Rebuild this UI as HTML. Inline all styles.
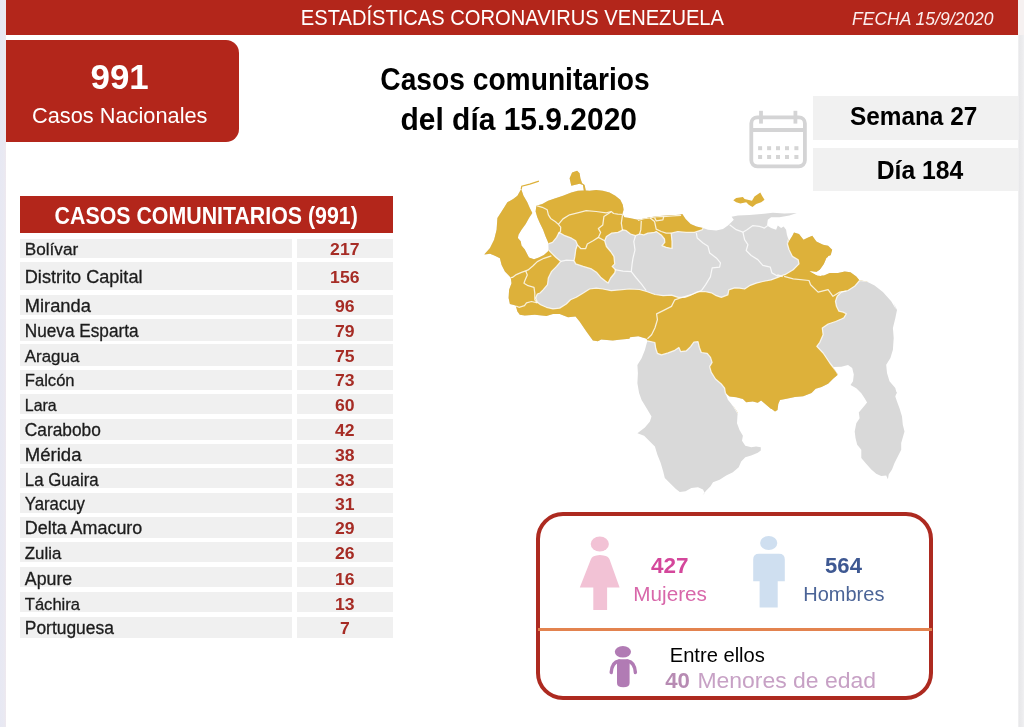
<!DOCTYPE html>
<html lang="es"><head><meta charset="utf-8"><title>Estadísticas Coronavirus Venezuela</title>
<style>
html,body{margin:0;padding:0;background:#fff;}
body{width:1024px;height:727px;position:relative;overflow:hidden;font-family:"Liberation Sans",sans-serif;}
.abs{position:absolute;}
svg.txt text{font-family:"Liberation Sans",sans-serif;}
.row{position:absolute;left:20px;width:373.3px;}
.row i{position:absolute;top:0;bottom:0;background:#f0f0f0;display:block;}
.row i.a{left:0;width:272.2px;}
.row i.b{left:276.5px;right:0;}
</style></head><body>

<div class="abs" style="left:0;top:0;width:6px;height:727px;background:linear-gradient(90deg,#e7e8f3 0,#e9e9f2 70%,#efe8ee 100%);"></div>
<div class="abs" style="left:1018px;top:0;width:6px;height:727px;background:linear-gradient(90deg,#f4f4f5 0,#e8e8ea 20%,#ebebed 60%,#f0f0f2 100%);"></div><div class="abs" style="left:1018px;top:0;width:6px;height:35px;background:#f6f1f1;"></div>
<div class="abs" style="left:6px;top:0;width:1012px;height:34.6px;background:#b3261b;"></div>
<div class="abs" style="left:6px;top:39.6px;width:232.7px;height:102.1px;background:#b3261b;border-radius:0 13px 13px 0;"></div>
<div class="abs" style="left:813px;top:96px;width:205px;height:43.9px;background:#f1f1f1;"></div>
<div class="abs" style="left:813px;top:147.6px;width:205px;height:43.6px;background:#f1f1f1;"></div>
<svg class="abs" style="left:740px;top:100px" width="80" height="80" viewBox="740 100 80 80">
<g fill="none" stroke="#d4d4d5" stroke-width="3.8">
<rect x="751.3" y="117.3" width="53.6" height="49.0" rx="6" ry="6"/>
<line x1="751" y1="130" x2="805" y2="130"/>
<line x1="761" y1="110.8" x2="761" y2="123.6"/>
<line x1="795.4" y1="110.8" x2="795.4" y2="123.6"/>
</g><g fill="#d5d5d5">
<rect x="758.1" y="146.2" width="4" height="4"/>
<rect x="767.1" y="146.2" width="4" height="4"/>
<rect x="776.0" y="146.2" width="4" height="4"/>
<rect x="785.0" y="146.2" width="4" height="4"/>
<rect x="794.4" y="146.2" width="4" height="4"/>
<rect x="758.1" y="155.0" width="4" height="4"/>
<rect x="767.1" y="155.0" width="4" height="4"/>
<rect x="776.0" y="155.0" width="4" height="4"/>
<rect x="785.0" y="155.0" width="4" height="4"/>
<rect x="794.4" y="155.0" width="4" height="4"/>
</g></svg>
<div class="abs" style="left:19.8px;top:196.3px;width:373.5px;height:36.9px;background:#b3261b;"></div>
<div class="row" style="top:238.7px;height:19.3px;"><i class="a"></i><i class="b"></i></div>
<div class="row" style="top:262.3px;height:28.0px;"><i class="a"></i><i class="b"></i></div>
<div class="row" style="top:294.5px;height:20.4px;"><i class="a"></i><i class="b"></i></div>
<div class="row" style="top:319.0px;height:21.8px;"><i class="a"></i><i class="b"></i></div>
<div class="row" style="top:344.4px;height:21.2px;"><i class="a"></i><i class="b"></i></div>
<div class="row" style="top:369.5px;height:20.2px;"><i class="a"></i><i class="b"></i></div>
<div class="row" style="top:393.9px;height:20.6px;"><i class="a"></i><i class="b"></i></div>
<div class="row" style="top:419.0px;height:20.7px;"><i class="a"></i><i class="b"></i></div>
<div class="row" style="top:443.7px;height:20.0px;"><i class="a"></i><i class="b"></i></div>
<div class="row" style="top:467.9px;height:20.6px;"><i class="a"></i><i class="b"></i></div>
<div class="row" style="top:493.2px;height:20.0px;"><i class="a"></i><i class="b"></i></div>
<div class="row" style="top:517.4px;height:20.6px;"><i class="a"></i><i class="b"></i></div>
<div class="row" style="top:542.1px;height:20.2px;"><i class="a"></i><i class="b"></i></div>
<div class="row" style="top:567.2px;height:20.2px;"><i class="a"></i><i class="b"></i></div>
<div class="row" style="top:592.0px;height:19.8px;"><i class="a"></i><i class="b"></i></div>
<div class="row" style="top:616.7px;height:21.3px;"><i class="a"></i><i class="b"></i></div>
<svg class="abs" style="left:460px;top:150px" width="480" height="360" viewBox="460 150 480 360">
<defs><clipPath id="cp"><path d="M484.2 254.6 L490.0 248.0 L494.1 239.7 L496.6 229.7 L497.4 218.1 L501.6 211.5 L507.4 202.3 L513.2 199.0 L517.4 195.7 L521.2 189.1 L523.5 195.7 L527.3 202.3 L529.8 208.1 L532.3 213.1 L529.0 218.1 L525.7 223.9 L521.5 229.7 L518.5 234.7 L517.9 238.0 L520.7 241.3 L521.5 245.5 L524.8 249.6 L527.0 253.8 L529.0 257.6 L534.0 259.3 L538.9 257.6 L543.9 255.0 L548.1 251.3 L548.4 243.0 L545.6 236.4 L543.1 229.7 L539.8 223.1 L537.3 217.3 L535.6 211.5 L536.4 205.7 L542.3 204.0 L548.1 200.7 L554.7 198.5 L563.0 195.7 L571.3 192.4 L577.9 190.7 L583.8 190.4 L582.9 184.9 L579.6 183.7 L571.3 185.7 L569.6 178.3 L572.1 172.5 L577.1 170.8 L579.6 173.3 L580.4 178.3 L582.1 183.2 L584.6 184.9 L585.8 190.4 L589.6 190.7 L596.2 189.9 L602.9 190.7 L609.5 192.4 L615.3 195.7 L620.3 199.8 L622.8 204.8 L623.6 209.8 L622.4 214.0 L624.4 217.3 L629.4 218.1 L637.7 219.8 L644.4 218.4 L649.9 217.3 L659.9 216.1 L671.5 215.3 L679.8 214.8 L682.3 214.0 L685.6 218.9 L690.6 223.9 L696.4 226.4 L703.0 228.1 L708.0 229.7 L716.3 230.6 L723.0 228.9 L727.9 225.6 L731.3 222.3 L733.8 219.8 L731.6 216.8 L737.9 215.6 L749.5 215.1 L761.2 214.0 L772.8 212.8 L784.4 213.5 L796.8 213.1 L789.4 215.6 L779.4 217.3 L771.1 217.3 L767.8 219.8 L767.0 225.6 L771.1 228.1 L776.1 229.7 L777.8 225.6 L781.1 228.1 L783.6 226.4 L786.1 229.7 L786.9 234.7 L788.5 239.7 L787.4 244.0 L789.9 239.8 L792.4 235.7 L794.0 232.4 L799.0 234.0 L803.5 239.8 L808.1 237.4 L812.3 235.7 L816.4 241.5 L823.1 244.8 L828.1 245.7 L832.2 249.8 L830.6 255.6 L826.4 258.1 L823.9 263.9 L819.8 269.7 L815.6 272.5 L809.8 271.1 L817.3 275.5 L823.9 275.5 L829.7 273.0 L838.0 273.0 L844.7 271.4 L850.5 272.2 L856.3 276.4 L859.6 280.5 L866.2 281.3 L874.6 285.5 L882.9 292.1 L891.2 301.3 L896.1 309.6 L893.7 303.2 L897.0 309.9 L895.3 318.2 L892.9 328.1 L893.7 338.1 L892.9 349.7 L890.4 358.0 L886.2 364.7 L887.0 373.0 L889.5 381.3 L895.3 387.9 L897.0 394.6 L897.0 391.6 L895.3 396.6 L897.0 401.6 L899.5 408.2 L902.0 416.5 L902.8 424.8 L904.5 431.5 L901.2 443.1 L901.2 449.7 L897.8 456.4 L894.5 463.0 L892.0 469.6 L888.7 474.6 L887.9 479.3 L886.2 475.5 L881.2 476.0 L876.2 473.8 L871.3 469.6 L865.5 463.0 L861.3 458.0 L861.3 449.7 L857.2 444.7 L855.5 438.1 L854.7 431.5 L856.3 423.2 L859.6 418.2 L858.8 412.4 L863.0 407.4 L867.1 402.4 L864.6 398.3 L861.3 393.3 L856.3 388.3 L850.5 385.0 L853.0 381.3 L853.8 374.6 L852.2 368.0 L848.0 365.0 L841.4 366.7 L832.8 367.0 L838.1 374.6 L833.1 378.8 L828.1 383.8 L821.5 387.1 L815.7 388.7 L811.5 392.9 L803.2 396.2 L794.9 397.0 L786.6 398.7 L780.0 399.9 L778.3 404.1 L777.5 409.9 L775.0 411.5 L771.7 409.1 L771.1 408.9 L766.1 404.7 L761.1 400.6 L757.8 402.8 L752.8 401.4 L746.2 402.3 L742.9 398.9 L736.2 397.3 L729.6 396.4 L725.4 393.1 L727.9 399.8 L734.6 408.1 L737.9 413.0 L737.5 414.9 L737.0 423.2 L739.5 429.9 L742.9 435.7 L742.0 440.7 L745.3 445.7 L751.2 447.3 L756.1 446.5 L760.8 447.3 L760.8 450.6 L757.8 452.8 L751.2 455.6 L745.3 457.3 L741.2 461.4 L738.7 467.2 L732.9 472.2 L726.2 475.5 L719.6 479.7 L713.0 482.2 L710.5 486.3 L706.3 490.5 L702.2 495.5 L704.7 493.0 L703.0 489.6 L698.0 487.2 L691.4 488.0 L685.6 491.3 L679.8 492.1 L675.6 488.8 L669.8 483.0 L664.8 478.0 L663.2 471.4 L660.7 463.1 L657.4 454.8 L654.9 446.5 L649.1 440.7 L644.1 435.7 L637.4 433.2 L644.9 427.4 L649.9 421.6 L651.5 416.6 L646.6 408.3 L641.6 400.0 L639.1 393.1 L637.4 383.2 L637.9 373.2 L637.4 364.9 L641.6 358.3 L644.9 350.0 L647.4 340.8 L646.6 338.8 L638.3 336.3 L630.0 337.2 L629.4 338.8 L621.1 339.6 L612.8 340.5 L601.2 339.6 L597.9 341.3 L592.9 340.5 L586.2 331.3 L579.6 321.4 L575.5 316.4 L568.0 317.2 L559.7 313.9 L553.0 313.9 L546.4 315.9 L534.8 314.7 L524.8 315.6 L519.8 314.7 L517.4 311.4 L515.7 305.6 L509.9 304.0 L508.6 298.1 L509.1 289.8 L511.5 283.2 L510.7 277.4 L504.9 271.6 L501.6 264.9 L499.9 258.3 L494.9 255.8 L490.0 253.7 Z"/></clipPath></defs>
<path d="M484.2 254.6 L490.0 248.0 L494.1 239.7 L496.6 229.7 L497.4 218.1 L501.6 211.5 L507.4 202.3 L513.2 199.0 L517.4 195.7 L521.2 189.1 L523.5 195.7 L527.3 202.3 L529.8 208.1 L532.3 213.1 L529.0 218.1 L525.7 223.9 L521.5 229.7 L518.5 234.7 L517.9 238.0 L520.7 241.3 L521.5 245.5 L524.8 249.6 L527.0 253.8 L529.0 257.6 L534.0 259.3 L538.9 257.6 L543.9 255.0 L548.1 251.3 L548.4 243.0 L545.6 236.4 L543.1 229.7 L539.8 223.1 L537.3 217.3 L535.6 211.5 L536.4 205.7 L542.3 204.0 L548.1 200.7 L554.7 198.5 L563.0 195.7 L571.3 192.4 L577.9 190.7 L583.8 190.4 L582.9 184.9 L579.6 183.7 L571.3 185.7 L569.6 178.3 L572.1 172.5 L577.1 170.8 L579.6 173.3 L580.4 178.3 L582.1 183.2 L584.6 184.9 L585.8 190.4 L589.6 190.7 L596.2 189.9 L602.9 190.7 L609.5 192.4 L615.3 195.7 L620.3 199.8 L622.8 204.8 L623.6 209.8 L622.4 214.0 L624.4 217.3 L629.4 218.1 L637.7 219.8 L644.4 218.4 L649.9 217.3 L659.9 216.1 L671.5 215.3 L679.8 214.8 L682.3 214.0 L685.6 218.9 L690.6 223.9 L696.4 226.4 L703.0 228.1 L708.0 229.7 L716.3 230.6 L723.0 228.9 L727.9 225.6 L731.3 222.3 L733.8 219.8 L731.6 216.8 L737.9 215.6 L749.5 215.1 L761.2 214.0 L772.8 212.8 L784.4 213.5 L796.8 213.1 L789.4 215.6 L779.4 217.3 L771.1 217.3 L767.8 219.8 L767.0 225.6 L771.1 228.1 L776.1 229.7 L777.8 225.6 L781.1 228.1 L783.6 226.4 L786.1 229.7 L786.9 234.7 L788.5 239.7 L787.4 244.0 L789.9 239.8 L792.4 235.7 L794.0 232.4 L799.0 234.0 L803.5 239.8 L808.1 237.4 L812.3 235.7 L816.4 241.5 L823.1 244.8 L828.1 245.7 L832.2 249.8 L830.6 255.6 L826.4 258.1 L823.9 263.9 L819.8 269.7 L815.6 272.5 L809.8 271.1 L817.3 275.5 L823.9 275.5 L829.7 273.0 L838.0 273.0 L844.7 271.4 L850.5 272.2 L856.3 276.4 L859.6 280.5 L866.2 281.3 L874.6 285.5 L882.9 292.1 L891.2 301.3 L896.1 309.6 L893.7 303.2 L897.0 309.9 L895.3 318.2 L892.9 328.1 L893.7 338.1 L892.9 349.7 L890.4 358.0 L886.2 364.7 L887.0 373.0 L889.5 381.3 L895.3 387.9 L897.0 394.6 L897.0 391.6 L895.3 396.6 L897.0 401.6 L899.5 408.2 L902.0 416.5 L902.8 424.8 L904.5 431.5 L901.2 443.1 L901.2 449.7 L897.8 456.4 L894.5 463.0 L892.0 469.6 L888.7 474.6 L887.9 479.3 L886.2 475.5 L881.2 476.0 L876.2 473.8 L871.3 469.6 L865.5 463.0 L861.3 458.0 L861.3 449.7 L857.2 444.7 L855.5 438.1 L854.7 431.5 L856.3 423.2 L859.6 418.2 L858.8 412.4 L863.0 407.4 L867.1 402.4 L864.6 398.3 L861.3 393.3 L856.3 388.3 L850.5 385.0 L853.0 381.3 L853.8 374.6 L852.2 368.0 L848.0 365.0 L841.4 366.7 L832.8 367.0 L838.1 374.6 L833.1 378.8 L828.1 383.8 L821.5 387.1 L815.7 388.7 L811.5 392.9 L803.2 396.2 L794.9 397.0 L786.6 398.7 L780.0 399.9 L778.3 404.1 L777.5 409.9 L775.0 411.5 L771.7 409.1 L771.1 408.9 L766.1 404.7 L761.1 400.6 L757.8 402.8 L752.8 401.4 L746.2 402.3 L742.9 398.9 L736.2 397.3 L729.6 396.4 L725.4 393.1 L727.9 399.8 L734.6 408.1 L737.9 413.0 L737.5 414.9 L737.0 423.2 L739.5 429.9 L742.9 435.7 L742.0 440.7 L745.3 445.7 L751.2 447.3 L756.1 446.5 L760.8 447.3 L760.8 450.6 L757.8 452.8 L751.2 455.6 L745.3 457.3 L741.2 461.4 L738.7 467.2 L732.9 472.2 L726.2 475.5 L719.6 479.7 L713.0 482.2 L710.5 486.3 L706.3 490.5 L702.2 495.5 L704.7 493.0 L703.0 489.6 L698.0 487.2 L691.4 488.0 L685.6 491.3 L679.8 492.1 L675.6 488.8 L669.8 483.0 L664.8 478.0 L663.2 471.4 L660.7 463.1 L657.4 454.8 L654.9 446.5 L649.1 440.7 L644.1 435.7 L637.4 433.2 L644.9 427.4 L649.9 421.6 L651.5 416.6 L646.6 408.3 L641.6 400.0 L639.1 393.1 L637.4 383.2 L637.9 373.2 L637.4 364.9 L641.6 358.3 L644.9 350.0 L647.4 340.8 L646.6 338.8 L638.3 336.3 L630.0 337.2 L629.4 338.8 L621.1 339.6 L612.8 340.5 L601.2 339.6 L597.9 341.3 L592.9 340.5 L586.2 331.3 L579.6 321.4 L575.5 316.4 L568.0 317.2 L559.7 313.9 L553.0 313.9 L546.4 315.9 L534.8 314.7 L524.8 315.6 L519.8 314.7 L517.4 311.4 L515.7 305.6 L509.9 304.0 L508.6 298.1 L509.1 289.8 L511.5 283.2 L510.7 277.4 L504.9 271.6 L501.6 264.9 L499.9 258.3 L494.9 255.8 L490.0 253.7 Z" fill="#d9d9d9"/>
<g clip-path="url(#cp)"><path d="M470.0 150.0 L720.0 150.0 L708.0 223.9 L703.0 228.4 L701.9 229.9 L694.4 232.4 L686.1 232.4 L677.8 231.5 L671.2 233.2 L672.0 241.5 L672.0 248.5 L666.2 247.3 L662.0 245.7 L664.8 242.3 L664.5 239.0 L661.2 234.9 L656.2 231.5 L654.6 232.4 L647.9 233.2 L643.8 234.9 L639.6 234.0 L635.5 235.7 L630.5 234.0 L626.3 230.7 L623.0 229.9 L618.0 232.4 L611.4 233.2 L606.4 236.5 L604.7 240.7 L606.4 246.5 L610.6 251.5 L613.9 256.4 L614.7 263.9 L612.2 266.4 L615.5 269.7 L614.7 273.0 L610.6 278.0 L608.1 283.0 L605.6 281.3 L600.6 277.2 L596.4 272.2 L591.5 268.9 L583.2 266.4 L575.7 263.9 L574.0 260.6 L574.9 256.4 L575.7 249.8 L577.4 244.8 L575.7 240.7 L571.5 238.2 L564.9 235.7 L559.1 232.4 L556.6 237.4 L552.5 242.3 L547.5 244.0 L548.3 249.8 L551.6 253.1 L555.8 257.3 L560.8 261.4 L556.6 266.4 L551.6 271.4 L548.3 278.0 L547.5 284.7 L543.3 289.6 L540.0 293.0 L537.3 294.0 L535.6 298.1 L537.3 302.3 L540.6 304.8 L546.4 307.3 L553.0 308.9 L559.7 308.1 L566.3 304.0 L570.5 299.8 L576.3 297.3 L582.9 293.2 L589.6 289.0 L596.2 288.2 L602.9 289.0 L611.2 290.7 L619.5 289.8 L629.4 289.0 L639.4 289.5 L646.6 291.5 L654.9 294.5 L663.2 295.7 L671.5 295.2 L678.1 297.3 L684.8 297.3 L691.4 294.8 L698.1 291.5 L704.7 291.5 L711.3 292.8 L716.3 295.7 L721.3 297.3 L727.9 294.8 L728.8 289.8 L734.6 287.9 L739.6 288.2 L744.6 289.0 L749.5 285.7 L756.2 283.2 L762.8 281.5 L771.1 279.9 L777.8 277.4 L784.4 274.6 L784.9 274.7 L793.2 269.7 L799.0 263.9 L798.2 259.8 L792.4 256.4 L789.1 249.8 L787.4 244.0 L790.0 233.0 L790.5 224.0 L930.0 224.0 L930.0 290.0 L859.6 280.5 L854.6 286.3 L848.0 290.5 L841.3 292.1 L837.2 296.3 L835.5 301.3 L836.4 306.2 L838.9 311.2 L843.0 312.1 L846.3 313.7 L843.8 317.9 L841.4 319.0 L835.6 321.5 L828.1 324.0 L822.3 328.1 L823.1 334.8 L819.8 342.3 L816.8 346.4 L823.1 353.0 L829.8 363.0 L835.6 370.5 L838.1 374.6 L838.0 425.0 L745.0 425.0 L728.7 398.1 L725.4 393.1 L724.6 388.1 L721.3 384.0 L715.5 379.0 L711.3 372.4 L709.6 366.6 L712.1 362.4 L710.5 357.4 L707.2 353.3 L701.3 352.5 L699.4 347.5 L698.0 341.7 L693.9 342.0 L690.6 346.6 L686.4 350.8 L680.6 351.6 L678.9 347.5 L674.8 350.3 L668.1 352.9 L661.5 354.9 L657.4 353.3 L655.7 348.3 L654.9 342.5 L647.4 340.8 L640.0 346.0 L600.0 356.0 L495.0 330.0 L470.0 250.0 Z" fill="#ddb13a" stroke="#fff" stroke-opacity="0.8" stroke-width="1.25" stroke-linejoin="round"/></g>
<path d="M733.3 200.3 L736.2 197.9 L742.9 196.9 L744.6 199.0 L752.0 200.7 L754.5 196.5 L760.3 192.4 L762.0 195.7 L764.5 199.8 L761.2 202.3 L756.2 204.0 L752.5 207.0 L748.7 204.8 L746.2 202.3 L740.4 203.5 L736.2 202.3 Z" fill="#ddb13a"/>
<path d="M521.2 189.1 L521.8 186.2 L529.8 184.1 L538.9 181.1" fill="none" stroke="#ddb13a" stroke-width="1.2"/>
<path d="M831.4 255.3 L829.7 263.9 L825.9 270.6 L820.9 275.9 L816.4 275.0 L809.5 271.2 L817.3 272.1 L821.8 268.6 L825.6 261.4 L828.4 256.1 Z" fill="#fff"/>
<g clip-path="url(#cp)" fill="none" stroke="#fff" stroke-opacity="0.8" stroke-width="1.25" stroke-linejoin="round">
<path d="M536.4 205.7 L542.3 207.3 L547.2 209.8 L548.4 214.8 L550.6 218.4 L555.5 221.8 L558.4 224.4 L560.7 227.2 L560.5 231.4 L558.4 233.9"/>
<path d="M558.4 224.4 L563.0 218.9 L569.6 214.8 L579.6 212.3 L586.2 210.6 L596.2 211.5 L606.2 212.8 L611.2 211.5 L613.6 213.5 L617.8 214.1 L623.1 214.5"/>
<path d="M610.9 212.0 L603.9 216.6 L602.8 224.9 L598.4 228.6 L600.6 232.4 L598.4 237.4 L604.7 240.7"/>
<path d="M577.4 244.8 L580.7 248.5 L585.7 248.5 L587.3 244.0 L593.1 240.7 L598.4 237.4"/>
<path d="M622.5 214.9 L621.3 223.2 L622.5 230.4"/>
<path d="M641.3 220.8 L640.8 229.9 L639.6 234.0"/>
<path d="M637.9 220.3 L643.8 218.6 L649.6 217.9 L656.2 216.6 L662.9 216.6 L672.8 215.8 L681.1 215.3"/>
<path d="M650.1 217.9 L654.6 221.6 L656.2 229.1 L661.2 231.5 L666.2 233.2 L671.2 233.2"/>
<path d="M654.6 217.6 L656.2 220.8 L662.9 219.9 L663.7 216.6"/>
<path d="M551.4 255.8 L543.9 258.3 L537.3 261.6 L533.1 265.8 L528.1 269.9 L525.7 270.8 L521.5 272.4 L515.7 274.9 L512.4 277.4 L510.7 277.7"/>
<path d="M525.7 270.8 L527.3 274.9 L524.8 280.7 L524.0 283.2 L528.1 285.7 L534.0 287.4 L534.8 293.2 L534.8 299.8 L537.3 302.8"/>
<path d="M537.3 302.8 L531.5 301.5 L526.5 302.8 L524.5 305.6 L519.0 307.3 L516.2 306.1"/>
<path d="M701.4 290.7 L693.1 294.0 L679.8 298.1 L674.8 299.8 L671.5 306.4 L663.2 310.6 L656.6 313.9 L657.4 319.7 L654.9 328.0 L651.6 334.7 L647.4 338.8"/>
<path d="M784.1 276.4 L793.2 278.9 L809.0 280.5 L810.6 284.7 L818.1 292.1 L828.1 289.6 L833.0 296.3 L839.7 292.1 L846.3 291.0"/>
<path d="M560.8 261.4 L566.6 260.1 L574.0 260.6"/>
<path d="M635.5 235.7 L633.8 241.5 L635.0 249.8 L633.0 258.1 L632.1 263.9 L631.3 271.7 L636.3 278.0 L641.3 283.8 L646.2 290.5"/>
<path d="M614.7 269.7 L623.0 271.1 L631.3 271.7"/>
<path d="M696.4 233.0 L697.2 238.0 L703.0 243.0 L708.0 246.3 L709.7 253.0 L716.3 257.9 L720.5 262.9 L719.6 267.1 L712.2 267.9 L710.5 276.2 L710.5 276.6 L705.5 284.9 L701.4 290.7"/>
<path d="M729.6 224.7 L736.2 229.7 L742.9 232.2 L747.0 229.7 L752.9 225.6 L759.5 226.4 L764.5 228.1 L767.8 225.6"/>
<path d="M742.9 232.2 L744.6 239.7 L747.9 244.7 L746.2 250.5 L751.2 255.5 L757.8 259.6 L762.8 265.4 L770.3 267.1 L771.9 272.9 L777.8 276.2 L777.8 274.9 L782.7 276.6"/>
</g></svg>
<div class="abs" style="left:535.8px;top:512.3px;width:389.6px;height:180.1px;border:4.4px solid #ad2a20;border-radius:27px;"></div>
<div class="abs" style="left:538px;top:628px;width:394px;height:3.2px;background:#e3834f;"></div>
<svg class="abs" style="left:570px;top:530px" width="240" height="170" viewBox="570 530 240 170">
<g fill="#f2c2d5"><ellipse cx="599.8" cy="544" rx="9.1" ry="7.4"/>
<path d="M596.5 555.4 Q599.8 554.6 603.5 555.4 Q608.3 556 609.6 559.5 L619.6 587.6 L607.1 587.6 L607.1 610 L593.3 610 L593.3 587.6 L579.8 587.6 L590.8 559.5 Q592 556 596.5 555.4 Z"/></g>
<g fill="#cfdff0"><ellipse cx="768.7" cy="543" rx="8.6" ry="6.9"/>
<path d="M759 553.7 L779 553.7 Q784.8 553.7 784.8 559.5 L784.8 581.2 L777.7 581.2 L777.7 607.4 L759.6 607.4 L759.6 581.2 L753.2 581.2 L753.2 559.5 Q753.2 553.7 759 553.7 Z"/></g>
<g fill="#b17bb4"><ellipse cx="622.9" cy="651.8" rx="8.1" ry="5.8"/>
<path d="M617 662.5 Q617 659.3 620.2 659.3 L626.4 659.3 Q629.6 659.3 629.6 662.5 L629.6 683 Q629.6 687.3 623.3 687.3 Q617 687.3 617 683 Z"/>
<path d="M619 661 Q612 662 611.2 672.5" fill="none" stroke="#b17bb4" stroke-width="3.4" stroke-linecap="round"/>
<path d="M627.6 661 Q634.6 662 635.4 672.5" fill="none" stroke="#b17bb4" stroke-width="3.4" stroke-linecap="round"/></g>
</svg>
<svg class="abs txt" style="left:0;top:0" width="1024" height="727" viewBox="0 0 1024 727" font-family="&quot;Liberation Sans&quot;, sans-serif">
<text x="300.80" y="25.4" font-size="22.79" fill="#fff" textLength="423.19" lengthAdjust="spacingAndGlyphs">ESTADÍSTICAS CORONAVIRUS VENEZUELA</text>
<text x="852.00" y="25.0" font-size="17.76" fill="#fbeeee" textLength="141.49" lengthAdjust="spacingAndGlyphs" font-style="italic">FECHA 15/9/2020</text>
<text x="90.50" y="89.2" font-size="34.39" fill="#fff" textLength="58.22" lengthAdjust="spacingAndGlyphs" font-weight="bold">991</text>
<text x="32.00" y="123.0" font-size="22.77" fill="#fff" textLength="175.49" lengthAdjust="spacingAndGlyphs">Casos Nacionales</text>
<text x="380.30" y="89.9" font-size="30.68" fill="#000" textLength="269.40" lengthAdjust="spacingAndGlyphs" font-weight="bold">Casos comunitarios</text>
<text x="400.50" y="130.4" font-size="30.50" fill="#000" textLength="236.50" lengthAdjust="spacingAndGlyphs" font-weight="bold">del día 15.9.2020</text>
<text x="849.90" y="125.3" font-size="25.60" fill="#000" textLength="127.39" lengthAdjust="spacingAndGlyphs" font-weight="bold">Semana 27</text>
<text x="876.70" y="179.3" font-size="25.43" fill="#000" textLength="86.61" lengthAdjust="spacingAndGlyphs" font-weight="bold">Día 184</text>
<text x="54.60" y="223.9" font-size="23.11" fill="#fff" textLength="303.20" lengthAdjust="spacingAndGlyphs" font-weight="bold">CASOS COMUNITARIOS (991)</text>
<text x="24.80" y="255.2" font-size="17.29" fill="#1c1c1c" textLength="53.41" lengthAdjust="spacingAndGlyphs" stroke="#1c1c1c" stroke-width="0.3">Bolívar</text>
<text x="330.12" y="255.2" font-size="17.35" fill="#a62c25" textLength="29.36" lengthAdjust="spacingAndGlyphs" font-weight="bold">217</text>
<text x="24.80" y="283.0" font-size="17.71" fill="#1c1c1c" textLength="117.70" lengthAdjust="spacingAndGlyphs" stroke="#1c1c1c" stroke-width="0.3">Distrito Capital</text>
<text x="330.12" y="283.0" font-size="17.35" fill="#a62c25" textLength="29.36" lengthAdjust="spacingAndGlyphs" font-weight="bold">156</text>
<text x="24.80" y="311.9" font-size="17.49" fill="#1c1c1c" textLength="66.08" lengthAdjust="spacingAndGlyphs" stroke="#1c1c1c" stroke-width="0.3">Miranda</text>
<text x="335.01" y="311.9" font-size="17.35" fill="#a62c25" textLength="19.58" lengthAdjust="spacingAndGlyphs" font-weight="bold">96</text>
<text x="24.80" y="336.9" font-size="17.64" fill="#1c1c1c" textLength="113.78" lengthAdjust="spacingAndGlyphs" stroke="#1c1c1c" stroke-width="0.3">Nueva Esparta</text>
<text x="335.01" y="336.9" font-size="17.35" fill="#a62c25" textLength="19.58" lengthAdjust="spacingAndGlyphs" font-weight="bold">79</text>
<text x="24.80" y="361.8" font-size="17.24" fill="#1c1c1c" textLength="54.49" lengthAdjust="spacingAndGlyphs" stroke="#1c1c1c" stroke-width="0.3">Aragua</text>
<text x="335.01" y="361.8" font-size="17.35" fill="#a62c25" textLength="19.58" lengthAdjust="spacingAndGlyphs" font-weight="bold">75</text>
<text x="24.80" y="386.1" font-size="17.28" fill="#1c1c1c" textLength="49.81" lengthAdjust="spacingAndGlyphs" stroke="#1c1c1c" stroke-width="0.3">Falcón</text>
<text x="335.01" y="386.1" font-size="17.35" fill="#a62c25" textLength="19.58" lengthAdjust="spacingAndGlyphs" font-weight="bold">73</text>
<text x="24.80" y="411.3" font-size="16.92" fill="#1c1c1c" textLength="31.89" lengthAdjust="spacingAndGlyphs" stroke="#1c1c1c" stroke-width="0.3">Lara</text>
<text x="335.01" y="411.3" font-size="17.35" fill="#a62c25" textLength="19.58" lengthAdjust="spacingAndGlyphs" font-weight="bold">60</text>
<text x="24.80" y="435.6" font-size="17.53" fill="#1c1c1c" textLength="76.00" lengthAdjust="spacingAndGlyphs" stroke="#1c1c1c" stroke-width="0.3">Carabobo</text>
<text x="335.01" y="435.6" font-size="17.35" fill="#a62c25" textLength="19.58" lengthAdjust="spacingAndGlyphs" font-weight="bold">42</text>
<text x="24.80" y="460.7" font-size="17.49" fill="#1c1c1c" textLength="56.68" lengthAdjust="spacingAndGlyphs" stroke="#1c1c1c" stroke-width="0.3">Mérida</text>
<text x="335.01" y="460.7" font-size="17.35" fill="#a62c25" textLength="19.58" lengthAdjust="spacingAndGlyphs" font-weight="bold">38</text>
<text x="24.80" y="485.5" font-size="17.59" fill="#1c1c1c" textLength="73.79" lengthAdjust="spacingAndGlyphs" stroke="#1c1c1c" stroke-width="0.3">La Guaira</text>
<text x="335.01" y="485.5" font-size="17.35" fill="#a62c25" textLength="19.58" lengthAdjust="spacingAndGlyphs" font-weight="bold">33</text>
<text x="24.80" y="510.2" font-size="17.53" fill="#1c1c1c" textLength="60.20" lengthAdjust="spacingAndGlyphs" stroke="#1c1c1c" stroke-width="0.3">Yaracuy</text>
<text x="335.01" y="510.2" font-size="17.35" fill="#a62c25" textLength="19.58" lengthAdjust="spacingAndGlyphs" font-weight="bold">31</text>
<text x="24.80" y="534.4" font-size="17.62" fill="#1c1c1c" textLength="117.49" lengthAdjust="spacingAndGlyphs" stroke="#1c1c1c" stroke-width="0.3">Delta Amacuro</text>
<text x="335.01" y="534.4" font-size="17.35" fill="#a62c25" textLength="19.58" lengthAdjust="spacingAndGlyphs" font-weight="bold">29</text>
<text x="24.80" y="559.1" font-size="17.10" fill="#1c1c1c" textLength="36.49" lengthAdjust="spacingAndGlyphs" stroke="#1c1c1c" stroke-width="0.3">Zulia</text>
<text x="335.01" y="559.1" font-size="17.35" fill="#a62c25" textLength="19.58" lengthAdjust="spacingAndGlyphs" font-weight="bold">26</text>
<text x="24.80" y="585.3" font-size="17.43" fill="#1c1c1c" textLength="47.41" lengthAdjust="spacingAndGlyphs" stroke="#1c1c1c" stroke-width="0.3">Apure</text>
<text x="335.01" y="585.3" font-size="17.35" fill="#a62c25" textLength="19.58" lengthAdjust="spacingAndGlyphs" font-weight="bold">16</text>
<text x="24.80" y="609.6" font-size="17.39" fill="#1c1c1c" textLength="55.19" lengthAdjust="spacingAndGlyphs" stroke="#1c1c1c" stroke-width="0.3">Táchira</text>
<text x="335.01" y="609.6" font-size="17.35" fill="#a62c25" textLength="19.58" lengthAdjust="spacingAndGlyphs" font-weight="bold">13</text>
<text x="24.80" y="633.7" font-size="17.54" fill="#1c1c1c" textLength="89.08" lengthAdjust="spacingAndGlyphs" stroke="#1c1c1c" stroke-width="0.3">Portuguesa</text>
<text x="339.91" y="633.7" font-size="17.35" fill="#a62c25" textLength="9.79" lengthAdjust="spacingAndGlyphs" font-weight="bold">7</text>
<text x="650.90" y="572.8" font-size="22.16" fill="#d4479b" textLength="37.51" lengthAdjust="spacingAndGlyphs" font-weight="bold">427</text>
<text x="633.30" y="600.7" font-size="19.94" fill="#d867aa" textLength="73.59" lengthAdjust="spacingAndGlyphs">Mujeres</text>
<text x="825.10" y="572.8" font-size="21.75" fill="#3e5892" textLength="36.81" lengthAdjust="spacingAndGlyphs" font-weight="bold">564</text>
<text x="803.30" y="600.7" font-size="19.85" fill="#4b6497" textLength="81.09" lengthAdjust="spacingAndGlyphs">Hombres</text>
<text x="669.70" y="661.7" font-size="20.17" fill="#000" textLength="95.19" lengthAdjust="spacingAndGlyphs">Entre ellos</text>
<text x="665.20" y="687.6" font-size="21.89" fill="#b78bb3" textLength="24.71" lengthAdjust="spacingAndGlyphs" font-weight="bold">40</text>
<text x="697.40" y="687.6" font-size="22.68" fill="#c7a1c5" textLength="178.71" lengthAdjust="spacingAndGlyphs">Menores de edad</text>
</svg>
</body></html>
